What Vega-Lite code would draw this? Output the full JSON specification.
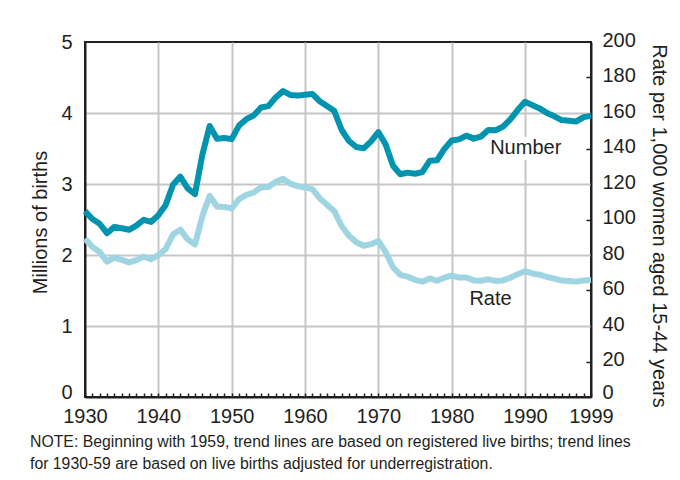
{
  "$schema": "https://vega.github.io/schema/vega-lite/v6.json",
  "width": 506,
  "height": 355,
  "autosize": "none",
  "padding": {"left": 85, "top": 42, "right": 89, "bottom": 83},
  "background": "white",
  "config": {
    "font": "Liberation Sans",
    "view": {"stroke": "#231f20", "strokeWidth": 2},
    "axis": {
      "labelFontSize": 20,
      "labelColor": "#231f20",
      "titleFontSize": 20,
      "titleFontWeight": "normal",
      "titleColor": "#231f20",
      "domainColor": "#231f20",
      "domainWidth": 2
    }
  },
  "title": {
    "text": [
      "NOTE: Beginning with 1959, trend lines are based on registered live births; trend lines",
      "for 1930-59 are based on live births adjusted for underregistration."
    ],
    "orient": "bottom",
    "anchor": "start",
    "frame": "group",
    "dx": -55,
    "offset": 9,
    "fontSize": 15.8,
    "fontWeight": "normal",
    "color": "#231f20",
    "lineHeight": 22
  },
  "datasets": {
    "births": [
      {"year": 1930, "number": 2.618, "rate": 89.2},
      {"year": 1931, "number": 2.506, "rate": 84.6},
      {"year": 1932, "number": 2.440, "rate": 81.7},
      {"year": 1933, "number": 2.307, "rate": 76.3},
      {"year": 1934, "number": 2.396, "rate": 78.5},
      {"year": 1935, "number": 2.377, "rate": 77.2},
      {"year": 1936, "number": 2.355, "rate": 75.8},
      {"year": 1937, "number": 2.413, "rate": 77.1},
      {"year": 1938, "number": 2.496, "rate": 79.1},
      {"year": 1939, "number": 2.466, "rate": 77.6},
      {"year": 1940, "number": 2.559, "rate": 79.9},
      {"year": 1941, "number": 2.703, "rate": 83.4},
      {"year": 1942, "number": 2.989, "rate": 91.5},
      {"year": 1943, "number": 3.104, "rate": 94.3},
      {"year": 1944, "number": 2.939, "rate": 88.8},
      {"year": 1945, "number": 2.858, "rate": 85.9},
      {"year": 1946, "number": 3.411, "rate": 101.9},
      {"year": 1947, "number": 3.817, "rate": 113.3},
      {"year": 1948, "number": 3.637, "rate": 107.3},
      {"year": 1949, "number": 3.649, "rate": 107.1},
      {"year": 1950, "number": 3.632, "rate": 106.2},
      {"year": 1951, "number": 3.823, "rate": 111.5},
      {"year": 1952, "number": 3.913, "rate": 113.9},
      {"year": 1953, "number": 3.965, "rate": 115.2},
      {"year": 1954, "number": 4.078, "rate": 118.1},
      {"year": 1955, "number": 4.097, "rate": 118.3},
      {"year": 1956, "number": 4.218, "rate": 121.2},
      {"year": 1957, "number": 4.308, "rate": 122.9},
      {"year": 1958, "number": 4.255, "rate": 120.2},
      {"year": 1959, "number": 4.245, "rate": 118.8},
      {"year": 1960, "number": 4.258, "rate": 118.0},
      {"year": 1961, "number": 4.268, "rate": 117.1},
      {"year": 1962, "number": 4.167, "rate": 112.0},
      {"year": 1963, "number": 4.098, "rate": 108.3},
      {"year": 1964, "number": 4.027, "rate": 104.7},
      {"year": 1965, "number": 3.760, "rate": 96.3},
      {"year": 1966, "number": 3.606, "rate": 90.8},
      {"year": 1967, "number": 3.521, "rate": 87.2},
      {"year": 1968, "number": 3.502, "rate": 85.2},
      {"year": 1969, "number": 3.600, "rate": 86.1},
      {"year": 1970, "number": 3.731, "rate": 87.9},
      {"year": 1971, "number": 3.556, "rate": 81.6},
      {"year": 1972, "number": 3.258, "rate": 73.1},
      {"year": 1973, "number": 3.137, "rate": 68.8},
      {"year": 1974, "number": 3.160, "rate": 67.8},
      {"year": 1975, "number": 3.144, "rate": 66.0},
      {"year": 1976, "number": 3.168, "rate": 65.0},
      {"year": 1977, "number": 3.327, "rate": 66.8},
      {"year": 1978, "number": 3.333, "rate": 65.5},
      {"year": 1979, "number": 3.494, "rate": 67.2},
      {"year": 1980, "number": 3.612, "rate": 68.4},
      {"year": 1981, "number": 3.629, "rate": 67.3},
      {"year": 1982, "number": 3.681, "rate": 67.3},
      {"year": 1983, "number": 3.639, "rate": 65.7},
      {"year": 1984, "number": 3.669, "rate": 65.5},
      {"year": 1985, "number": 3.761, "rate": 66.3},
      {"year": 1986, "number": 3.757, "rate": 65.4},
      {"year": 1987, "number": 3.809, "rate": 65.7},
      {"year": 1988, "number": 3.910, "rate": 67.2},
      {"year": 1989, "number": 4.041, "rate": 69.2},
      {"year": 1990, "number": 4.158, "rate": 70.9},
      {"year": 1991, "number": 4.111, "rate": 69.6},
      {"year": 1992, "number": 4.065, "rate": 68.9},
      {"year": 1993, "number": 4.000, "rate": 67.6},
      {"year": 1994, "number": 3.953, "rate": 66.7},
      {"year": 1995, "number": 3.900, "rate": 65.6},
      {"year": 1996, "number": 3.891, "rate": 65.3},
      {"year": 1997, "number": 3.881, "rate": 65.0},
      {"year": 1998, "number": 3.942, "rate": 65.6},
      {"year": 1999, "number": 3.959, "rate": 65.9}
    ],
    "numberLabel": [{"label": "Number", "year": 1990.1, "number": 3.51}],
    "rateLabel": [{"label": "Rate", "year": 1985.3, "rate": 55.2}]
  },
  "encoding": {
    "x": {
      "field": "year",
      "type": "quantitative",
      "scale": {"domain": [1930, 1999], "nice": false, "zero": false},
      "axis": {
        "title": null,
        "format": "d",
        "values": [1930,1931,1932,1933,1934,1935,1936,1937,1938,1939,1940,1941,1942,1943,1944,1945,1946,1947,1948,1949,1950,1951,1952,1953,1954,1955,1956,1957,1958,1959,1960,1961,1962,1963,1964,1965,1966,1967,1968,1969,1970,1971,1972,1973,1974,1975,1976,1977,1978,1979,1980,1981,1982,1983,1984,1985,1986,1987,1988,1989,1990,1991,1992,1993,1994,1995,1996,1997,1998,1999],
        "labelExpr": "datum.value % 10 == 0 ? datum.label : (datum.value == 1999 ? '\u00a0\u00a0\u00a0\u00a0\u00a0\u00a01999' : '')",
        "labelOverlap": false,
        "labelFlush": false,
        "labelPadding": 13,
        "tickSize": -4,
        "tickWidth": 1.5,
        "tickColor": "#231f20",
        "grid": true,
        "gridColor": "#c6c6c6",
        "gridWidth": 2,
        "gridOpacity": {"condition": {"test": "datum.value % 10 == 0 && datum.value > 1930", "value": 1}, "value": 0}
      }
    }
  },
  "layer": [
    {
      "encoding": {
        "y": {
          "field": "number",
          "type": "quantitative",
          "scale": {"domain": [0, 5], "nice": false},
          "axis": {
            "title": "Millions of births",
            "values": [0, 1, 2, 3, 4, 5],
            "ticks": false,
            "tickSize": 0,
            "labelPadding": 13,
            "labelOffset": {"condition": {"test": "datum.value == 0", "value": -5}, "value": 0},
            "grid": true,
            "gridColor": "#c6c6c6",
            "gridWidth": 2,
            "gridOpacity": {"condition": {"test": "datum.value == 0 || datum.value == 5", "value": 0}, "value": 1},
            "titleX": -45,
            "titleY": 180,
            "titleAngle": -90,
            "titleAlign": "center",
            "titleBaseline": "middle"
          }
        }
      },
      "layer": [
        {
          "data": {"name": "births"},
          "mark": {"type": "line", "color": "#0094ae", "strokeWidth": 6, "strokeJoin": "round"}
        },
        {
          "data": {"name": "numberLabel"},
          "mark": {"type": "text", "fontSize": 20, "color": "white", "stroke": "white", "strokeWidth": 12, "strokeJoin": "round", "align": "center", "baseline": "middle"},
          "encoding": {"text": {"field": "label"}}
        },
        {
          "data": {"name": "numberLabel"},
          "mark": {"type": "text", "fontSize": 20, "color": "#231f20", "align": "center", "baseline": "middle"},
          "encoding": {"text": {"field": "label"}}
        }
      ]
    },
    {
      "encoding": {
        "y": {
          "field": "rate",
          "type": "quantitative",
          "scale": {"domain": [0, 200], "nice": false},
          "axis": {
            "orient": "right",
            "title": "Rate per 1,000 women aged 15-44 years",
            "values": [0, 20, 40, 60, 80, 100, 120, 140, 160, 180, 200],
            "grid": false,
            "tickSize": -5,
            "tickWidth": 1.5,
            "tickColor": {"condition": {"test": "datum.value % 40 == 20", "value": "#231f20"}, "value": "transparent"},
            "labelPadding": 16,
            "labelAlign": "left",
            "labelOffset": {"condition": {"test": "datum.value == 0", "value": -5}, "value": -2},
            "titleX": 67,
            "titleY": 183.5,
            "titleAngle": 90,
            "titleAlign": "center",
            "titleBaseline": "middle"
          }
        }
      },
      "layer": [
        {
          "data": {"name": "births"},
          "mark": {"type": "line", "color": "#9fd5e3", "strokeWidth": 6, "strokeJoin": "round"}
        },
        {
          "data": {"name": "rateLabel"},
          "mark": {"type": "text", "fontSize": 20, "color": "#231f20", "align": "center", "baseline": "middle"},
          "encoding": {"text": {"field": "label"}}
        }
      ]
    }
  ],
  "resolve": {"scale": {"y": "independent"}}
}
